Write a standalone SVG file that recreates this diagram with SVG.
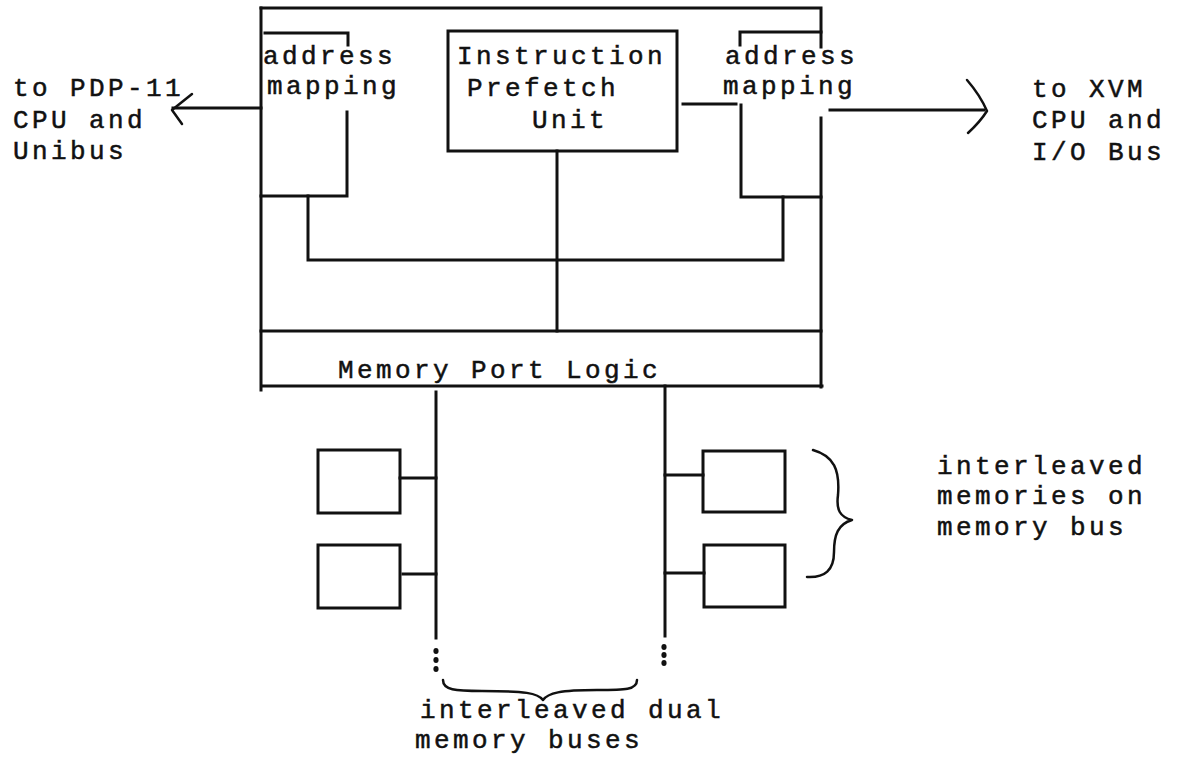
<svg xmlns="http://www.w3.org/2000/svg" width="1180" height="763" viewBox="0 0 1180 763">
<style>
  .ln { fill: none; stroke: #111; stroke-width: 3; stroke-linecap: square; stroke-linejoin: miter; }
  .thin { fill: none; stroke: #111; stroke-width: 2.5; stroke-linecap: round; stroke-linejoin: round; }
  .t { font-family: "Courier New", "Liberation Mono", monospace; font-size: 26px; letter-spacing: 3.4px; fill: #111; stroke: #111; stroke-width: 0.5px; }
  .dot { fill: #111; }
</style>
<rect width="1180" height="763" fill="#fff"/>

<g id="processor-frame">
  <path class="ln" d="M261,8 H821 V47"/>
  <path class="ln" d="M261,8 V390"/>
  <path class="ln" d="M821,118 V387"/>
</g>

<g id="left-address-mapping">
  <path class="ln" d="M265,33 H348 V45"/>
  <path class="ln" d="M347,112 V196 H261"/>
  <text class="t" x="263" y="64">address</text>
  <text class="t" x="267" y="94">mapping</text>
</g>

<g id="instruction-prefetch-unit">
  <rect class="ln" x="448" y="31" width="229" height="120"/>
  <text class="t" x="457" y="64">Instruction</text>
  <text class="t" x="467" y="96">Prefetch</text>
  <text class="t" x="532" y="128">Unit</text>
</g>

<g id="right-address-mapping">
  <path class="ln" d="M740,45 V32 H821"/>
  <path class="ln" d="M741,105 V197 H821"/>
  <text class="t" x="725" y="64">address</text>
  <text class="t" x="723" y="94">mapping</text>
</g>

<g id="memory-port-logic">
  <path class="ln" d="M261,331 H821"/>
  <path class="ln" d="M262,386 H822"/>
  <text class="t" x="338" y="378">Memory Port Logic</text>
</g>

<g id="memory-left-1"><rect class="ln" x="318" y="450" width="82" height="63"/></g>
<g id="memory-left-2"><rect class="ln" x="318" y="545" width="82" height="63"/></g>
<g id="memory-right-1"><rect class="ln" x="703" y="451" width="82" height="61"/></g>
<g id="memory-right-2"><rect class="ln" x="704" y="545" width="81" height="62"/></g>

<g id="connectors">
  <path class="ln" d="M261,108 H173"/>
  <path class="thin" d="M192,94 L172,110 L182,124"/>
  <path class="ln" d="M830,110 H984"/>
  <path class="thin" d="M967,80 Q980,95 987,111 Q980,122 968,133"/>
  <path class="ln" d="M683,104 H736"/>
  <path class="ln" d="M557,151 V331"/>
  <path class="ln" d="M308,196 V260 H783 V197"/>
  <path class="ln" d="M436,392 V638"/>
  <path class="ln" d="M665,386 V636"/>
  <path class="ln" d="M400,478 H436"/>
  <path class="ln" d="M403,574 H436"/>
  <path class="ln" d="M665,475 H703"/>
  <path class="ln" d="M665,573 H704"/>
  <ellipse class="dot" cx="436" cy="651" rx="2.6" ry="3"/>
  <ellipse class="dot" cx="436" cy="660" rx="2.6" ry="3"/>
  <ellipse class="dot" cx="436" cy="669" rx="2.6" ry="3"/>
  <ellipse class="dot" cx="664" cy="647" rx="2.6" ry="3"/>
  <ellipse class="dot" cx="664" cy="655" rx="2.6" ry="3"/>
  <ellipse class="dot" cx="664" cy="663" rx="2.6" ry="3"/>
</g>

<g id="brace-memories">
  <path class="thin" d="M813,450 C834,456 840,470 838,495 C836,510 840,517 852,520 C838,524 834,535 834,552 C834,570 825,578 807,577"/>
</g>
<g id="brace-buses">
  <path class="thin" d="M443,680 C443,690 455,691 482,691 C525,691 538,693 543,700 C548,693 560,690 597,690 C625,690 637,690 637,680"/>
</g>

<g id="label-pdp11">
  <text class="t" x="13" y="96">to PDP-11</text>
  <text class="t" x="13" y="128">CPU and</text>
  <text class="t" x="13" y="159">Unibus</text>
</g>
<g id="label-xvm">
  <text class="t" x="1032" y="97">to XVM</text>
  <text class="t" x="1032" y="128">CPU and</text>
  <text class="t" x="1032" y="160">I/O Bus</text>
</g>
<g id="label-interleaved-memories">
  <text class="t" x="937" y="474">interleaved</text>
  <text class="t" x="937" y="504">memories on</text>
  <text class="t" x="937" y="535">memory bus</text>
</g>
<g id="label-interleaved-buses">
  <text class="t" x="420" y="718">interleaved dual</text>
  <text class="t" x="415" y="748">memory buses</text>
</g>
</svg>
